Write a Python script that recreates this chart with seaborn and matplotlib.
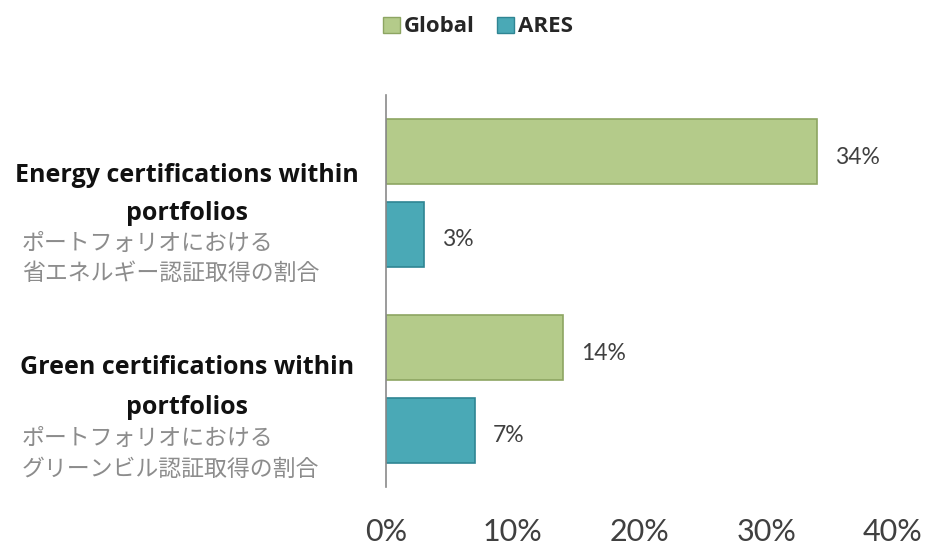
import matplotlib
matplotlib.use("Agg")
import matplotlib.pyplot as plt
import seaborn as sns
import pandas as pd
from matplotlib.patches import Patch
from matplotlib.ticker import FuncFormatter

# ---- data ----
categories = ["Energy certifications within portfolios", "Green certifications within portfolios"]
series_names = ["Global", "ARES"]
global_values = [34, 14]
ares_values = [3, 7]
en_labels = [["Energy certifications within", "portfolios"],
             ["Green certifications within", "portfolios"]]
jp_labels = [["ポートフォリオにおける", "省エネルギー認証取得の割合"],
             ["ポートフォリオにおける", "グリーンビル認証取得の割合"]]
x_ticks = [0, 10, 20, 30, 40]

rows = []
for c, g, a in zip(categories, global_values, ares_values):
    rows.append({"category": c, "series": "Global", "value": g})
    rows.append({"category": c, "series": "ARES", "value": a})
df = pd.DataFrame(rows)

sns.set_theme(style="white")
plt.rcParams["font.family"] = ["Lato", "DejaVu Sans"]

W, H = 927, 549
fig = plt.figure(figsize=(W / 100, H / 100), dpi=100)
ax = fig.add_axes([386 / W, 1 - 487 / H, (893 - 386) / W, (487 - 95) / H])

green = "#b4cb8a"
teal = "#4aa9b6"
sns.barplot(data=df, y="category", x="value", hue="series", order=categories,
            hue_order=series_names, orient="h", width=0.844, gap=0.218,
            palette=[green, teal], ax=ax, legend=False, saturation=1)

edge_cols = ["#8da562", "#2f8593"]
for cont, ec in zip(ax.containers, edge_cols):
    for p in cont:
        p.set_edgecolor(ec)
        p.set_linewidth(1.2)
    texts = ax.bar_label(cont, labels=[f"{v:.0f}%" for v in cont.datavalues],
                         padding=13, fontsize=16.5, color="#404040")
    for t in texts:
        ox, oy = t.xyann
        t.xyann = (ox, oy - 4)

ax.set_xlim(0, 40)
ax.set_xticks(x_ticks)
ax.xaxis.set_major_formatter(FuncFormatter(lambda v, p: f"{v:.0f}%"))
ax.tick_params(axis="x", labelsize=22, colors="#404040", length=0, pad=22)
ax.set_yticks([])
ax.set_xlabel("")
ax.set_ylabel("")
for s in ["top", "right", "bottom"]:
    ax.spines[s].set_visible(False)
ax.spines["left"].set_color("#8a8a8a")
ax.spines["left"].set_linewidth(1.2)

# category labels
en_y = [(175, 213), (368, 408)]
jp_y = [(243, 273), (438, 469)]
for i in range(2):
    for line, yy in zip(en_labels[i], en_y[i]):
        fig.text(187 / W, 1 - yy / H, line, ha="center", va="center",
                 fontsize=18, fontweight="bold", color="#111111",
                 family=["Open Sans", "DejaVu Sans"])
    for line, yy in zip(jp_labels[i], jp_y[i]):
        fig.text(22 / W, 1 - yy / H, line, ha="left", va="center",
                 fontsize=16.5, color="#8c8c8c",
                 family=["Noto Sans CJK JP", "DejaVu Sans"])

handles = [Patch(facecolor=green, edgecolor=edge_cols[0]),
           Patch(facecolor=teal, edgecolor=edge_cols[1])]
fig.legend(handles, series_names, loc="center", bbox_to_anchor=(478 / W, 1 - 27 / H),
           ncol=2, frameon=False, handlelength=0.75, handleheight=0.75,
           handletextpad=0.2, columnspacing=1.0,
           prop={"family": ["Open Sans", "DejaVu Sans"], "weight": "bold", "size": 16})

fig.savefig("out.png", dpi=100)
